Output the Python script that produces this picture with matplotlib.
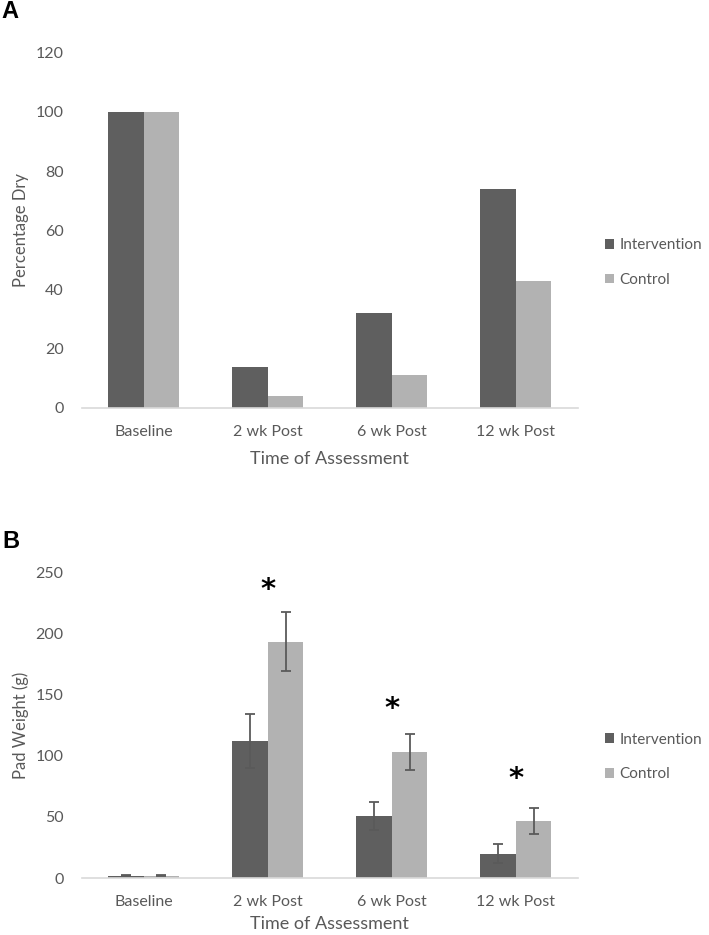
import numpy as np
import matplotlib
matplotlib.use("Agg")
import matplotlib.pyplot as plt

# chart data
categories = ["Baseline", "2 wk Post", "6 wk Post", "12 wk Post"]
dry_intervention = [100, 14, 32, 74]
dry_control = [100, 4, 11, 43]
pad_intervention = [2, 112, 51, 20]
pad_control = [2, 193, 103, 46.5]
pad_intervention_err = [0.5, 22, 11.5, 7.7]
pad_control_err = [0.5, 24, 14.5, 10.3]
star_heights = [None, 235, 138, 81]

DARK = "#5f5f5f"
LIGHT = "#b2b2b2"
TEXT = "#595959"

plt.rcParams["font.family"] = ["Lato", "DejaVu Sans"]
plt.rcParams["font.size"] = 11

fig = plt.figure(figsize=(7.09, 9.35), dpi=100)
W, H = 709, 935


def make_axes(top_px, bottom_px):
    left = 81.7 / W
    width = (578 - 81.7) / W
    return fig.add_axes([left, 1 - bottom_px / H, width, (bottom_px - top_px) / H])


def style_axes(ax, ymax, step, ylabel, xpad):
    ax.set_xlim(-0.5, len(categories) - 0.5)
    ax.set_ylim(0, ymax)
    ax.set_yticks(np.arange(0, ymax + 1, step))
    ax.set_xticks(np.arange(len(categories)))
    ax.set_xticklabels(categories)
    for s in ["top", "right", "left"]:
        ax.spines[s].set_visible(False)
    ax.spines["bottom"].set_color("#d9d9d9")
    ax.spines["bottom"].set_linewidth(1.2)
    ax.tick_params(axis="both", length=0, colors=TEXT, labelsize=11.5)
    ax.tick_params(axis="y", pad=13)
    ax.tick_params(axis="x", pad=12)
    ax.set_xlabel("Time of Assessment", color=TEXT, fontsize=13, labelpad=xpad)
    ax.set_ylabel(ylabel, color=TEXT, fontsize=12, labelpad=5)
    ax.set_axisbelow(True)


def add_legend(ax, y_px):
    leg = ax.legend(loc="center left", bbox_to_anchor=(605 / W, 1 - y_px / H),
                    bbox_transform=fig.transFigure, frameon=False, fontsize=11,
                    handlelength=0.6, handleheight=0.6, handletextpad=0.35,
                    labelspacing=1.35, borderaxespad=0, borderpad=0)
    for t in leg.get_texts():
        t.set_color(TEXT)


x = np.arange(len(categories))
bw = 0.286

# panel A
axA = make_axes(52.7, 408)
axA.bar(x - bw / 2, dry_intervention, bw, color=DARK, label="Intervention")
axA.bar(x + bw / 2, dry_control, bw, color=LIGHT, label="Control")
style_axes(axA, 120, 20, "Percentage Dry", 9)
add_legend(axA, 262.5)

# panel B
axB = make_axes(572, 878)
err_kw = dict(ecolor="#5a5a5a", elinewidth=1.3, capsize=3.5, capthick=1.3)
axB.bar(x - bw / 2, pad_intervention, bw, color=DARK, label="Intervention",
        yerr=pad_intervention_err, error_kw=err_kw)
axB.bar(x + bw / 2, pad_control, bw, color=LIGHT, label="Control",
        yerr=pad_control_err, error_kw=err_kw)
style_axes(axB, 250, 50, "Pad Weight (g)", 5)
for xi, h in zip(x, star_heights):
    if h is not None:
        axB.text(xi, h, "*", ha="center", va="center", fontsize=21,
                 fontweight="bold", color="black", family="DejaVu Sans")
add_legend(axB, 757)

# panel letters
fig.text(1 / W, 1 - 11 / H, "A", fontsize=17, fontweight="bold",
         family="Liberation Sans", va="center", ha="left")
fig.text(2 / W, 1 - 542 / H, "B", fontsize=17, fontweight="bold",
         family="Liberation Sans", va="center", ha="left")

fig.savefig("out.png", dpi=100)
